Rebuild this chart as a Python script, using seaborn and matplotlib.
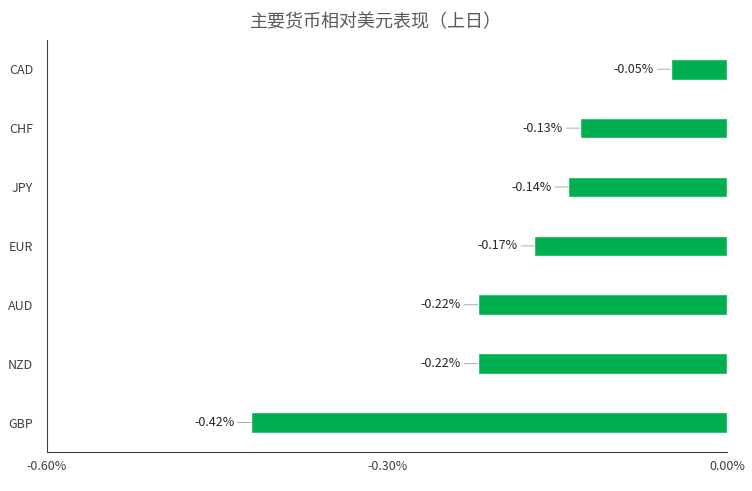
import matplotlib
matplotlib.use('Agg')
import matplotlib.pyplot as plt
import seaborn as sns
import pandas as pd

sns.set_style('white')
plt.rcParams['font.family'] = ['Noto Sans CJK SC', 'DejaVu Sans']

currencies = ['CAD', 'CHF', 'JPY', 'EUR', 'AUD', 'NZD', 'GBP']
changes = [-0.05, -0.13, -0.14, -0.17, -0.22, -0.22, -0.42]
xticks = [-0.6, -0.3, 0.0]

df = pd.DataFrame({'ccy': currencies, 'chg': changes})

fig = plt.figure(figsize=(7.52, 4.91), dpi=100)
ax = fig.add_axes([0.0625, 0.0794, 0.9045, 0.8396])
sns.barplot(data=df, x='chg', y='ccy', color='#00b050', saturation=1, width=0.35, ax=ax)

ax.set_xlim(-0.6, 0)
ax.set_xticks(xticks)
ax.set_xticklabels(['{:.2f}%'.format(t) for t in xticks], fontsize=9, color='#404040')
ax.tick_params(axis='y', labelsize=9, labelcolor='#404040', length=0, pad=10)
ax.tick_params(axis='x', length=0, pad=6)
ax.set_xlabel('')
ax.set_ylabel('')
for s in ['top', 'right']:
    ax.spines[s].set_visible(False)
for s in ['left', 'bottom']:
    ax.spines[s].set_color('#404040')
    ax.spines[s].set_linewidth(0.8)

for i, v in enumerate(changes):
    ax.annotate('{:.2f}%'.format(v), xy=(v, i), xytext=(-12, 0), textcoords='offset points',
                ha='right', va='center', fontsize=9, color='#262626',
                arrowprops=dict(arrowstyle='-', color='#a0a0a0', lw=0.6, shrinkA=0, shrinkB=0))

fig.text(0.5, 0.955, '主要货币相对美元表现（上日）', ha='center', va='center', fontsize=13, color='#595959')
fig.savefig('out.png', dpi=100)
